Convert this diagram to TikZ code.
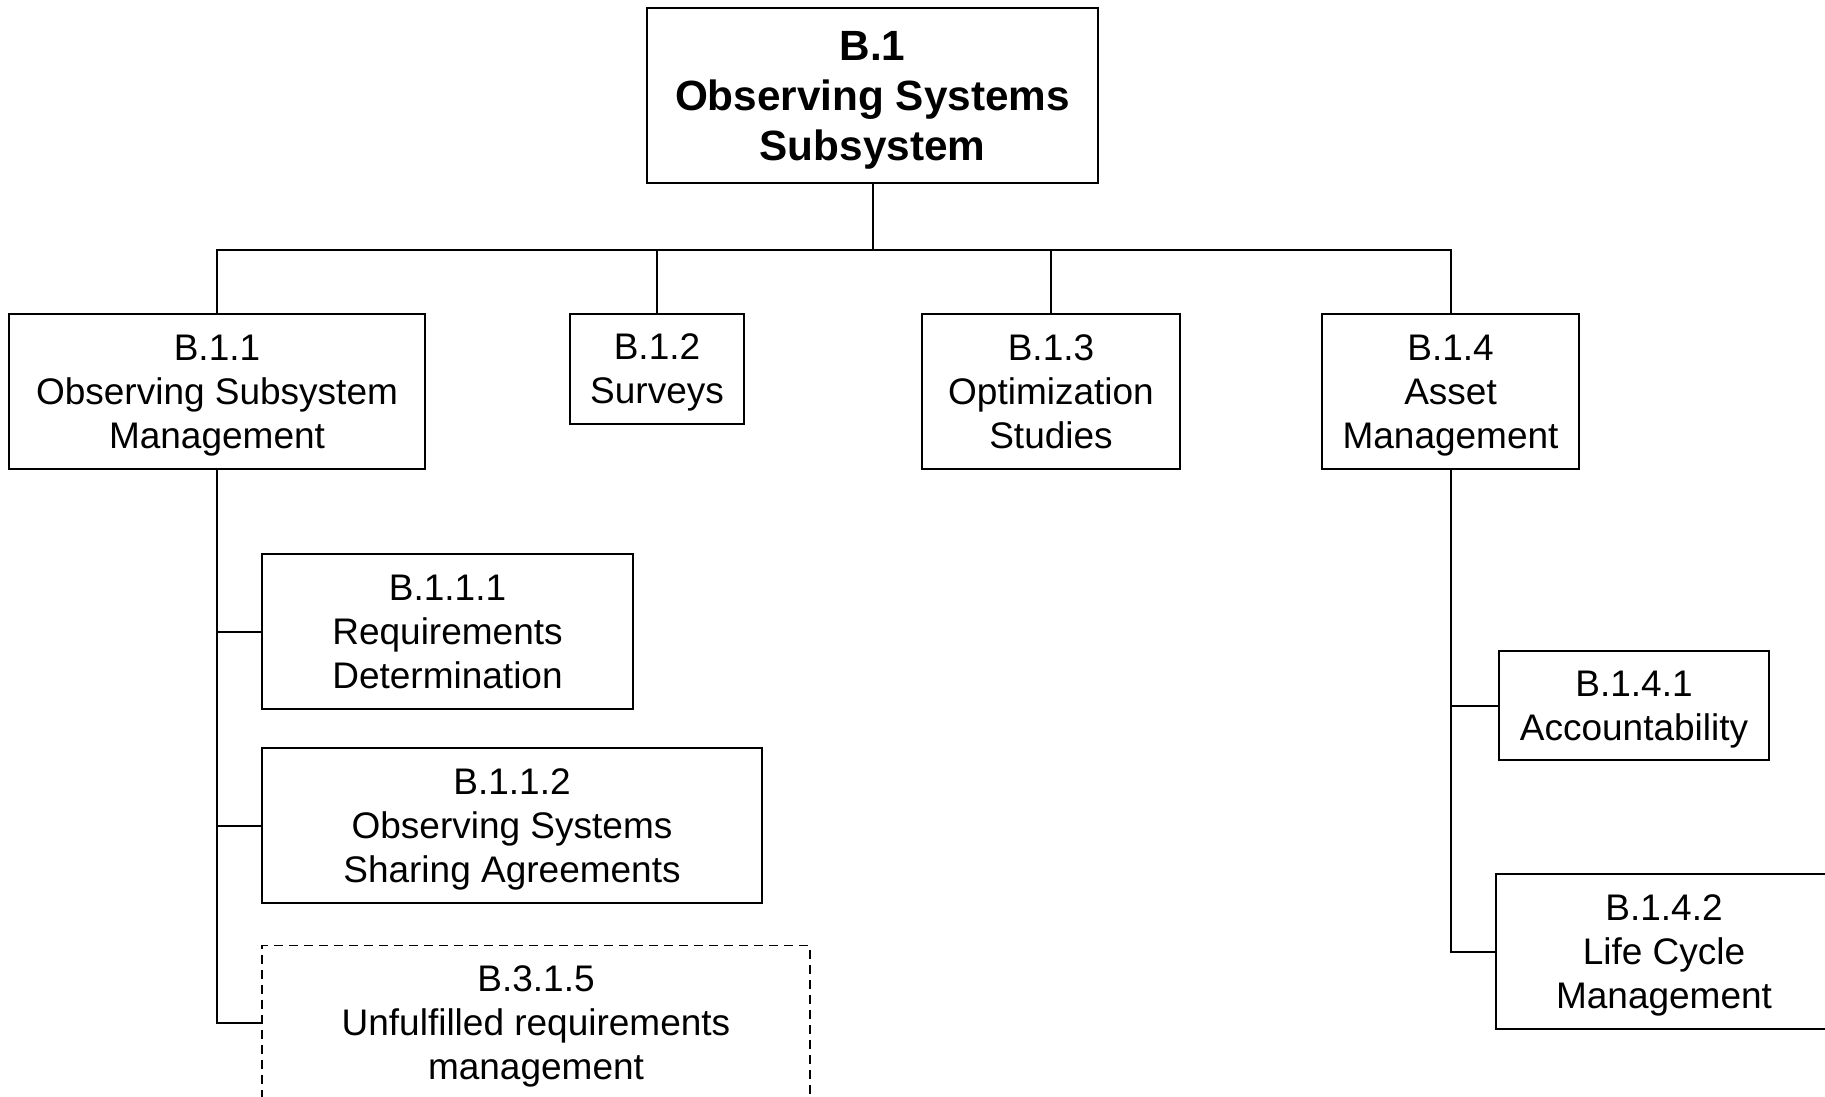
\documentclass[tikz,border=0pt]{standalone}
\usepackage{fontspec}
\setmainfont{Liberation Sans}
\begin{document}
\begin{tikzpicture}[x=1pt,y=-1pt,
  box/.style={draw, line width=2pt, inner sep=0pt, align=center, text depth=0pt,
    font=\fontsize{37}{44}\selectfont},
  topbox/.style={box, font=\fontsize{42.3}{50}\selectfont\bfseries},
  pending/.style={box, line width=1.6pt, dash pattern=on 9pt off 6pt},
  link/.style={line width=2pt}]

% page frame; boxes at the right and bottom edge run past it
\path[use as bounding box, clip] (0,0) rectangle (1825,1097);

% root
\node[topbox, minimum width=451pt, minimum height=175pt] (root) at (872.5,95.5)
  {B.1\\Observing Systems\\Subsystem};

% first level
\node[box, minimum width=416pt, minimum height=155pt] (b11) at (217,391.5)
  {B.1.1\\Observing Subsystem\\Management};
\node[box, minimum width=174pt, minimum height=110pt] (b12) at (657,369)
  {B.1.2\\Surveys};
\node[box, minimum width=258pt, minimum height=155pt] (b13) at (1051,391.5)
  {B.1.3\\Optimization\\Studies};
\node[box, minimum width=257pt, minimum height=155pt] (b14) at (1450.5,391.5)
  {B.1.4\\Asset\\Management};

% under B.1.1
\node[box, minimum width=371pt, minimum height=155pt] (b111) at (447.5,631.5)
  {B.1.1.1\\Requirements\\Determination};
\node[box, minimum width=500pt, minimum height=155pt] (b112) at (512,825.5)
  {B.1.1.2\\Observing Systems\\Sharing Agreements};
\node[pending, minimum width=548pt, minimum height=155pt] (b315) at (536,1023)
  {B.3.1.5\\Unfulfilled requirements\\management};

% under B.1.4
\node[box, minimum width=270pt, minimum height=109pt] (b141) at (1634,705.5)
  {B.1.4.1\\Accountability};
\node[box, minimum width=336pt, minimum height=155pt] (b142) at (1664,951.5)
  {B.1.4.2\\Life Cycle\\Management};

% bus from the root to the first level
\draw[link] (root.south) -- ++(0,66) coordinate (bus);
\draw[link] (b11.north) |- (bus) -| (b14.north);
\draw[link] (b12.north) -- (b12.north |- bus);
\draw[link] (b13.north) -- (b13.north |- bus);

% spine of B.1.1
\draw[link] (b11.south) |- (b315.west);
\draw[link] (b111.west -| b11.south) -- (b111.west);
\draw[link] (b112.west -| b11.south) -- (b112.west);

% spine of B.1.4
\draw[link] (b14.south) |- (b142.west);
\draw[link] (b141.west -| b14.south) -- (b141.west);
\end{tikzpicture}
\end{document}
